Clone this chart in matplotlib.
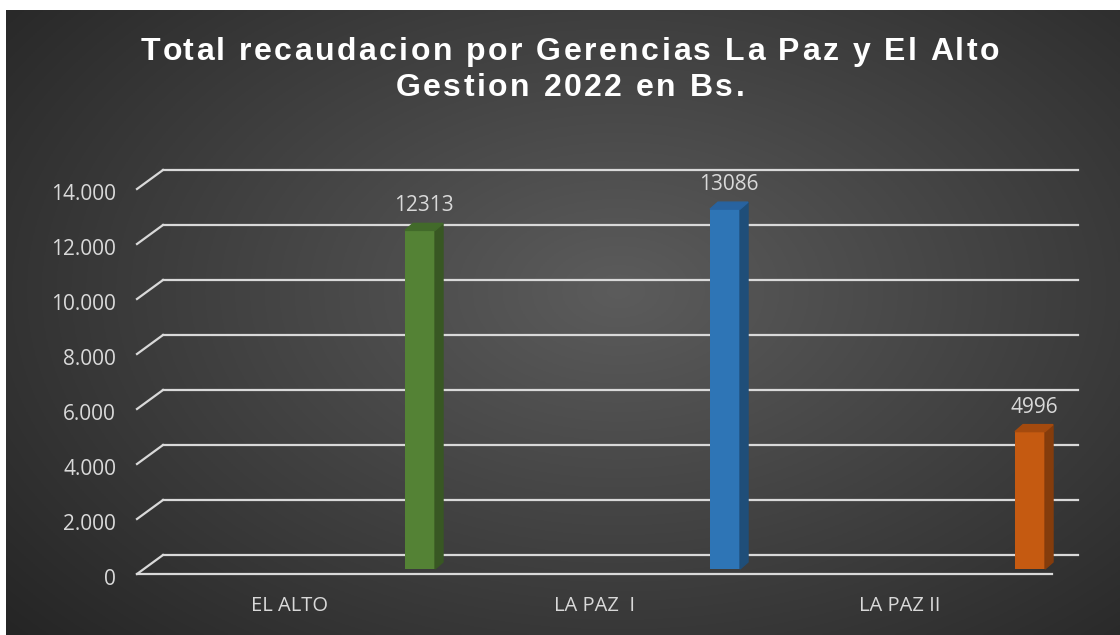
import numpy as np
import matplotlib
matplotlib.use("Agg")
import matplotlib.pyplot as plt
import matplotlib.transforms as mtrans
from matplotlib.patches import Polygon
from matplotlib.font_manager import FontProperties

categories = ["EL ALTO", "LA PAZ  I", "LA PAZ II"]
values = [12313, 13086, 4996]
yticks = [0, 2000, 4000, 6000, 8000, 10000, 12000, 14000]
ytick_labels = ["0", "2.000", "4.000", "6.000", "8.000", "10.000", "12.000", "14.000"]
title = "Total recaudacion por Gerencias La Paz y El Alto\nGestion 2022 en Bs."

front_cols = ["#548235", "#2e75b6", "#c55a11"]
side_cols = ["#385723", "#1f4e79", "#843c0c"]
top_cols = ["#426a2a", "#2863a0", "#a44a0e"]

W, H = 1120, 635
fig = plt.figure(figsize=(W / 100, H / 100), dpi=100)
fig.patch.set_facecolor("white")

# dark radial background panel
bg = fig.add_axes([6 / W, 0, 1 - 6 / W, (H - 10) / H])
yy, xx = np.mgrid[0:1:300j, 0:1:500j]
r = np.sqrt(((xx - 0.55) / 0.75) ** 2 + ((yy - 0.45) / 0.85) ** 2)
r = np.clip(r, 0, 1)
shade = 0.36 - 0.22 * r
bg.imshow(np.dstack([shade, shade, shade]), aspect="auto", extent=[0, 1, 0, 1])
bg.axis("off")

# front plane axes
ax = fig.add_axes([137 / W, (H - 574) / H, 915 / W, 385 / H])
ax.set_xlim(-0.5, 2.5)
ax.set_ylim(0, 14000)
ax.patch.set_alpha(0)
for s in ax.spines.values():
    s.set_visible(False)

ux = 3 / 915
uy = 14000 / 385
grid_c = "#d9d9d9"

# gridlines on back wall with perspective stub
wx, wy = 26 * ux, 19 * uy
for v in yticks:
    ax.plot([-0.5, -0.5 + wx], [v, v + wy], color=grid_c, lw=1.6, clip_on=False, zorder=1)
    ax.plot([-0.5 + wx, 2.5 + wx], [v + wy, v + wy], color=grid_c, lw=1.6, clip_on=False, zorder=1)
ax.plot([-0.5, 2.5], [0, 0], color=grid_c, lw=1.6, clip_on=False, zorder=1)

# 3d-ish bars
bx, by = 7 * ux, 5 * uy
dx, dy = 8 * ux, 7 * uy
width = 30 * ux
xpos = np.arange(len(values)) + 0.405 + bx
ax.bar(xpos, values, width=width, bottom=by, color=front_cols, zorder=3, clip_on=False)
for x, v, sc, tc in zip(xpos, values, side_cols, top_cols):
    xl, xr = x - width / 2, x + width / 2
    top = by + v
    ax.add_patch(Polygon([(xr, by), (xr, top), (xr + dx, top + dy), (xr + dx, by + dy)],
                         closed=True, color=sc, zorder=3, clip_on=False))
    ax.add_patch(Polygon([(xl, top), (xr, top), (xr + dx, top + dy), (xl + dx, top + dy)],
                         closed=True, color=tc, zorder=3, clip_on=False))
    ax.annotate(str(v), (x + dx / 2, top + dy), xytext=(0, 5), textcoords="offset points",
                ha="center", va="bottom", color="#d9d9d9", fontsize=15, family="Open Sans",
                zorder=4)

ax.set_yticks(yticks)
ax.set_yticklabels(ytick_labels)
ax.set_xticks(range(len(categories)))
ax.set_xticklabels(categories)
ax.tick_params(axis="y", length=0, pad=15, labelcolor="#d9d9d9", labelsize=15)
ax.tick_params(axis="x", length=0, pad=16, labelcolor="#d9d9d9", labelsize=14.5)
for lab in ax.get_xticklabels() + ax.get_yticklabels():
    lab.set_family("Open Sans")
shift = mtrans.ScaledTranslation(0, -3 / 100, fig.dpi_scale_trans)
for lab in ax.get_yticklabels():
    lab.set_transform(lab.get_transform() + shift)

# title with expanded letter spacing, drawn char by char
fp = FontProperties(family="Liberation Sans", weight="bold", size=23)
renderer = fig.canvas.get_renderer()


def text_w(s):
    w, _, _ = renderer.get_text_width_height_descent(s + "|", fp, ismath=False)
    w0, _, _ = renderer.get_text_width_height_descent("|", fp, ismath=False)
    return w - w0


def spaced_title(s, xc, y_base, spacing=2.5):
    adv = [0.0] + [text_w(s[:i + 1]) for i in range(len(s))]
    total = adv[-1] + spacing * (len(s) - 1)
    x0 = xc - total / 2
    for i, ch in enumerate(s):
        if ch == " ":
            continue
        fig.text((x0 + adv[i] + i * spacing) / W, 1 - y_base / H, ch, ha="left",
                 va="baseline", color="white", fontproperties=fp)


lines = title.split("\n")
spaced_title(lines[0], 570, 60)
spaced_title(lines[1], 570, 96)

plt.savefig("out.png", dpi=100)
